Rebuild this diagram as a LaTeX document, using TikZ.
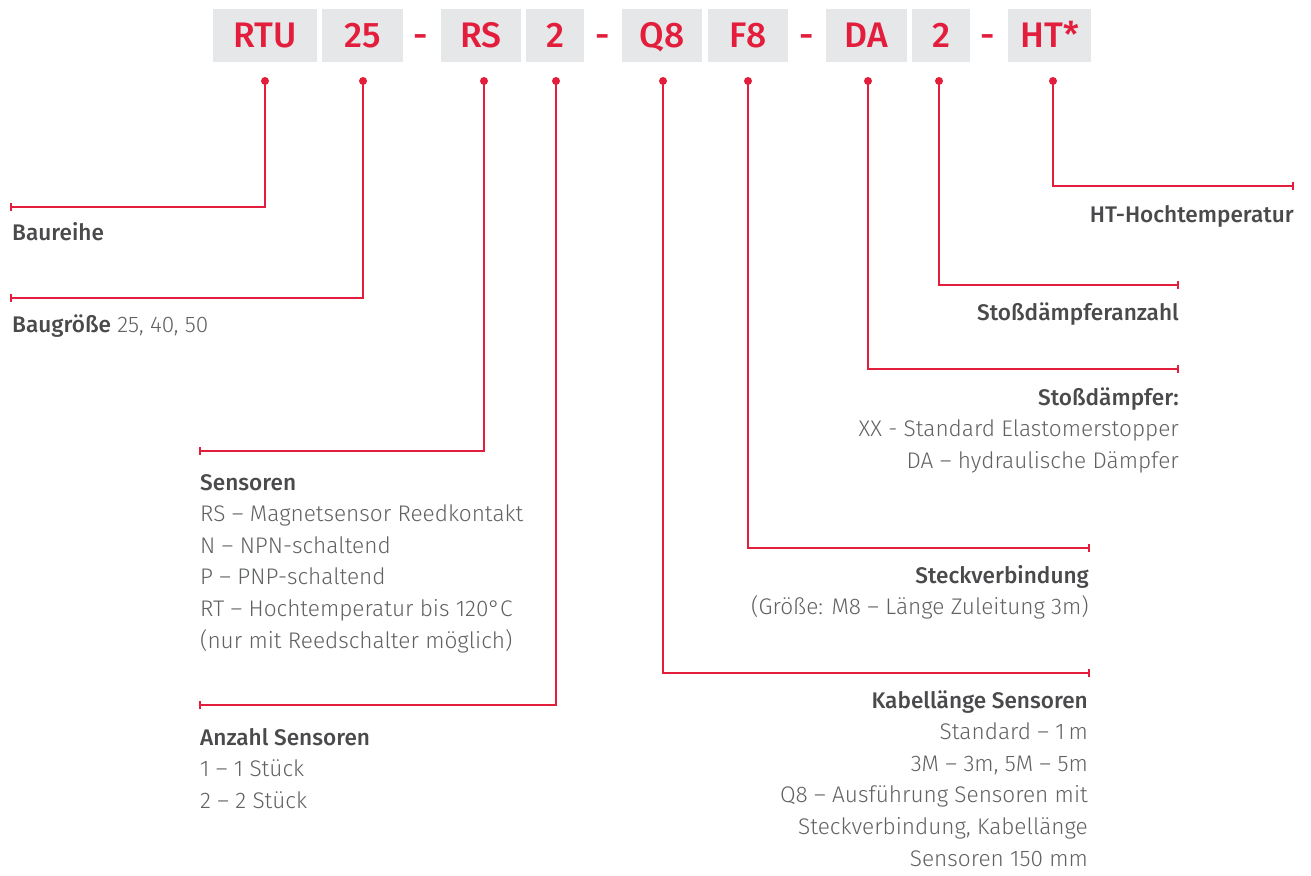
\documentclass[tikz,border=0pt]{standalone}
\usepackage{fontspec}
\IfFontExistsTF{Fira Sans Light}{%
  \IfFontExistsTF{Fira Sans Medium}{%
    \setmainfont{Fira Sans Light}[BoldFont={Fira Sans Medium}]}{%
    \setmainfont{Fira Sans Light}[BoldFont={Fira Sans}]}}{%
  \setmainfont{Fira Sans}}
\usetikzlibrary{arrows.meta}
\definecolor{rtred}{HTML}{E31E3D}
\definecolor{boxgrey}{HTML}{E6E7E8}
\definecolor{darkgrey}{HTML}{4A4A4C}
\definecolor{midgrey}{HTML}{606163}
\newcommand\rblk[1]{\vtop{\baselineskip=31.6pt\lineskiplimit=-100pt\lineskip=0pt\halign{\hfil##\cr#1\crcr}}}
\newcommand\lblk[1]{\vtop{\baselineskip=31.6pt\lineskiplimit=-100pt\lineskip=0pt\halign{##\hfil\cr#1\crcr}}}
\newcommand\hd[1]{{\bfseries\color{darkgrey}#1}}
\tikzset{
  codebox/.style={fill=boxgrey, minimum height=53pt, inner sep=0pt, text height=24pt, text depth=0pt,
    text=rtred, font=\fontsize{35.5}{40}\selectfont\bfseries},
  codedash/.style={text=rtred, inner sep=0pt, anchor=base, font=\fontsize{35.5}{40}\selectfont\bfseries},
  dot/.style={circle, fill=rtred, inner sep=0pt, minimum size=8pt},
  conn/.style={draw=rtred, line width=1.8pt, -{Bar[width=8pt,line width=1.8pt]}},
  lbl/.style={inner sep=0pt, text=midgrey, font=\fontsize{22.6}{31.6}\selectfont},
}
\begin{document}
\begin{tikzpicture}[x=1pt,y=-1pt]
\useasboundingbox (0,0) rectangle (1311,875);
% code boxes
\node[codebox, minimum width=104pt] (bRTU) at (265,35.5) {RTU};
\node[codebox, minimum width=81pt] (b25) at (362.5,35.5) {25};
\node[codedash] (d1) at (421,48) {-};
\node[codebox, minimum width=80pt] (bRS) at (481,35.5) {RS};
\node[codebox, minimum width=58pt] (b2a) at (555,35.5) {2};
\node[codedash] (d2) at (603,48) {-};
\node[codebox, minimum width=80pt] (bQ8) at (662,35.5) {Q8};
\node[codebox, minimum width=80pt] (bF8) at (748,35.5) {F8};
\node[codedash] (d3) at (807,48) {-};
\node[codebox, minimum width=81pt] (bDA) at (866.5,35.5) {DA};
\node[codebox, minimum width=58pt] (b2b) at (941,35.5) {2};
\node[codedash] (d4) at (988,48) {-};
\node[codebox, minimum width=83pt] (bHT) at (1049.5,35.5) {HT*};
% dots
\node[dot] (p1) at (265,81) {};
\node[dot] (p2) at (363,81) {};
\node[dot] (p3) at (484,81) {};
\node[dot] (p4) at (556,81) {};
\node[dot] (p5) at (663,81) {};
\node[dot] (p6) at (748,81) {};
\node[dot] (p7) at (868,81) {};
\node[dot] (p8) at (939,81) {};
\node[dot] (p9) at (1053,81) {};
% line ends
\coordinate (e1) at (10,207);
\coordinate (e2) at (10,298);
\coordinate (e3) at (199,451);
\coordinate (e4) at (199,705);
\coordinate (e5) at (1090,673);
\coordinate (e6) at (1090,548);
\coordinate (e7) at (1179,369);
\coordinate (e8) at (1179,285);
\coordinate (e9) at (1294,186);
\draw[conn] (p1.center) |- (e1);
\draw[conn] (p2.center) |- (e2);
\draw[conn] (p3.center) |- (e3);
\draw[conn] (p4.center) |- (e4);
\draw[conn] (p5.center) |- (e5);
\draw[conn] (p6.center) |- (e6);
\draw[conn] (p7.center) |- (e7);
\draw[conn] (p8.center) |- (e8);
\draw[conn] (p9.center) |- (e9);
% labels left
\node[lbl, anchor=base west] (t1) at (12,240) {\hd{Baureihe}};
\node[lbl, anchor=base west] (t2) at (12,332) {\hd{Baugröße} 25, 40, 50};
\node[lbl, anchor=base west] (t3) at (200,490) {\lblk{\hd{Sensoren}\cr
RS – Magnetsensor Reedkontakt\cr
N – NPN-schaltend\cr
P – PNP-schaltend\cr
RT – Hochtemperatur bis 120°C\cr
(nur mit Reedschalter möglich)}};
\node[lbl, anchor=base west] (t4) at (200,745) {\lblk{\hd{Anzahl Sensoren}\cr
1 – 1 Stück\cr
2 – 2 Stück}};
% labels right
\node[lbl, anchor=base east] (t9) at (1294,222) {\hd{HT-Hochtemperatur}};
\node[lbl, anchor=base east] (t8) at (1179,320) {\hd{Stoßdämpferanzahl}};
\node[lbl, anchor=base east] (t7) at (1179,405) {\rblk{\hd{Stoßdämpfer:}\cr
XX - Standard Elastomerstopper\cr
DA – hydraulische Dämpfer}};
\node[lbl, anchor=base east] (t6) at (1089,583) {\rblk{\hd{Steckverbindung}\cr
(Größe: M8 – Länge Zuleitung 3m)}};
\node[lbl, anchor=base east] (t5) at (1088,708) {\rblk{\hd{Kabellänge Sensoren}\cr
Standard – 1\,m\cr
3M – 3m, 5M – 5m\cr
Q8 – Ausführung Sensoren mit\cr
Steckverbindung, Kabellänge\cr
Sensoren 150 mm}};
\end{tikzpicture}
\end{document}
